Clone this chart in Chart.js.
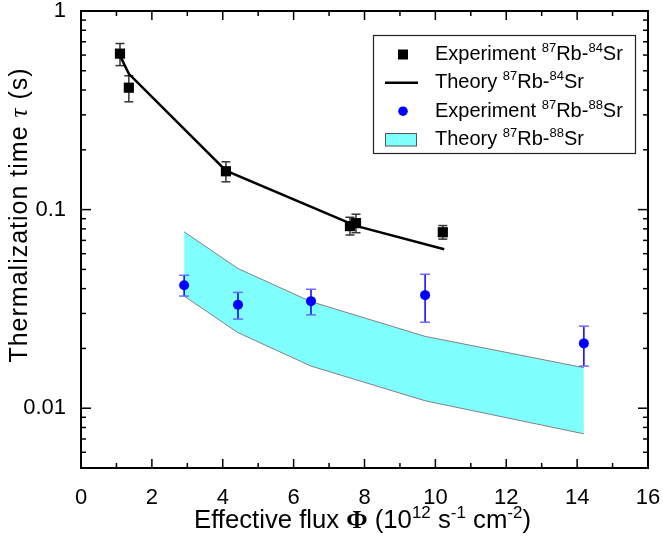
<!DOCTYPE html>
<html><head><meta charset="utf-8">
<script src="https://cdn.jsdelivr.net/npm/chart.js@4.4.0/dist/chart.umd.min.js"></script>
<style>html,body{margin:0;padding:0;background:#fff}#wrap{width:663px;height:540px}</style>
</head><body><div id="wrap"><canvas id="c" width="663" height="540"></canvas></div>
<script>
// ---- data ----
const exp84X  = [1.10, 1.35, 4.09, 7.59, 7.76, 10.21];
const exp84Y  = [0.610, 0.411, 0.156, 0.0826, 0.0855, 0.0769];
const exp84Hi = [0.686, 0.472, 0.174, 0.0915, 0.0948, 0.0831];
const exp84Lo = [0.531, 0.349, 0.138, 0.0745, 0.0765, 0.0710];

const theory84X = [1.10, 1.35, 4.09, 7.76, 10.25];
const theory84Y = [0.596, 0.483, 0.157, 0.0828, 0.0632];

const exp88X  = [2.91, 4.43, 6.49, 9.71, 14.19];
const exp88Y  = [0.0416, 0.0332, 0.0346, 0.0371, 0.0212];
const exp88Hi = [0.0467, 0.0383, 0.0397, 0.0473, 0.0259];
const exp88Lo = [0.0367, 0.0281, 0.0295, 0.0271, 0.0163];

const band88X     = [2.91, 4.43, 6.49, 9.71, 14.19];
const band88Upper = [0.0773, 0.0505, 0.0344, 0.0230, 0.0160];
const band88Lower = [0.0367, 0.0240, 0.0163, 0.0109, 0.00743];

const xTickValues = [0, 2, 4, 6, 8, 10, 12, 14, 16];
const yTickValues = [1, 0.1, 0.01];
const yTickLabels = ['1', '0.1', '0.01'];

const seriesNames = [
  'Experiment ^{87}Rb-^{84}Sr',
  'Theory ^{87}Rb-^{84}Sr',
  'Experiment ^{87}Rb-^{88}Sr',
  'Theory ^{87}Rb-^{88}Sr'
];
const xTitle = 'Effective flux Φ (10^{12} s^{-1} cm^{-2})';
const yTitle = 'Thermalization time τ (s)';

// ---- helpers ----
const FONT = "'Liberation Sans', Arial, sans-serif";
const SERIF = "'Liberation Serif', 'DejaVu Serif', serif";
const pts = (xs, ys) => xs.map((x, i) => ({x, y: ys[i]}));

function parseRich(s){
  const out = []; const re = /\^\{([^}]*)\}|([Φτ])|([^\^Φτ]+)/g; let m;
  while ((m = re.exec(s))){
    if (m[1] !== undefined) out.push({t: m[1], k: 'sup'});
    else if (m[2]) out.push({t: m[2], k: m[2] === 'Φ' ? 'phi' : 'tau'});
    else out.push({t: m[3], k: 'n'});
  }
  return out;
}
function fontFor(k, size){
  if (k === 'sup') return Math.round(size * 0.66) + 'px ' + FONT;
  if (k === 'phi') return 'bold ' + size + 'px ' + SERIF;
  if (k === 'tau') return 'italic ' + size + 'px ' + SERIF;
  return size + 'px ' + FONT;
}
function richWidth(ctx, parts, size){
  let w = 0;
  for (const p of parts){ ctx.font = fontFor(p.k, size); w += ctx.measureText(p.t).width; }
  return w;
}
function drawRich(ctx, parts, x, y, size){
  ctx.textBaseline = 'alphabetic'; ctx.textAlign = 'left';
  for (const p of parts){
    ctx.font = fontFor(p.k, size);
    const dy = p.k === 'sup' ? -size * 0.4 : 0;
    ctx.fillText(p.t, x, y + dy);
    x += ctx.measureText(p.t).width;
  }
}
function line(ctx, x1, y1, x2, y2){ ctx.beginPath(); ctx.moveTo(x1, y1); ctx.lineTo(x2, y2); ctx.stroke(); }

function drawErrorBars(chart){
  const {ctx, scales: {x, y}} = chart;
  ctx.save();
  ctx.lineWidth = 1.5;
  const groups = [
    {xs: exp84X, lo: exp84Lo, hi: exp84Hi, stem: '#333', cap: '#333', w: 4.5},
    {xs: exp88X, lo: exp88Lo, hi: exp88Hi, stem: '#0000ff', cap: '#6a6aff', w: 5}
  ];
  for (const g of groups){
    g.xs.forEach((xv, i) => {
      const px = x.getPixelForValue(xv);
      const pl = y.getPixelForValue(g.lo[i]);
      const ph = y.getPixelForValue(g.hi[i]);
      ctx.strokeStyle = g.stem; line(ctx, px, pl, px, ph);
      ctx.strokeStyle = g.cap;
      line(ctx, px - g.w, pl, px + g.w, pl);
      line(ctx, px - g.w, ph, px + g.w, ph);
    });
  }
  ctx.restore();
}

function drawFrameAndTicks(chart){
  const {ctx, chartArea: a, scales: {x, y}} = chart;
  ctx.save();
  ctx.strokeStyle = '#000'; ctx.lineWidth = 1.5;
  for (let v = x.min; v <= x.max + 1e-9; v += 1){
    const px = x.getPixelForValue(v);
    const len = (Math.round(v) % 2 === 0) ? 9 : 5;
    line(ctx, px, a.bottom, px, a.bottom - len);
    line(ctx, px, a.top, px, a.top + len);
  }
  const lmin = Math.floor(Math.log10(y.min)), lmax = Math.ceil(Math.log10(y.max));
  for (let e = lmin; e <= lmax; e++){
    for (let m = 1; m <= 9; m++){
      const v = m * Math.pow(10, e);
      if (v < y.min * 0.999 || v > y.max * 1.001) continue;
      const py = y.getPixelForValue(v);
      const len = m === 1 ? 10 : 5;
      line(ctx, a.left, py, a.left + len, py);
      line(ctx, a.right, py, a.right - len, py);
    }
  }
  ctx.lineWidth = 2;
  ctx.strokeRect(a.left, a.top, a.right - a.left, a.bottom - a.top);
  ctx.restore();
}

function drawLegend(chart){
  const {ctx, chartArea: a} = chart;
  const L = a.right - 275, T = a.top + 24, W = 262, H = 118;
  ctx.save();
  ctx.fillStyle = '#fff'; ctx.fillRect(L, T, W, H);
  ctx.strokeStyle = '#222'; ctx.lineWidth = 1.2; ctx.strokeRect(L + 0.5, T + 0.5, W, H);
  const sx = L + 30, tx = L + 62, size = 20;
  const base = [T + 25, T + 53.3, T + 81.7, T + 110];
  base.forEach((b, i) => {
    const cy = b - 5.5;
    const ds = chart.data.datasets[i];
    if (i === 0){ ctx.fillStyle = ds.backgroundColor; ctx.fillRect(sx - 5, cy - 5, 10, 10); }
    if (i === 1){ ctx.strokeStyle = ds.borderColor; ctx.lineWidth = 2.5; line(ctx, sx - 18, cy, sx + 15, cy); }
    if (i === 2){ ctx.fillStyle = ds.backgroundColor; ctx.beginPath(); ctx.arc(sx, cy, 4.8, 0, Math.PI * 2); ctx.fill(); }
    if (i === 3){ ctx.fillStyle = ds.backgroundColor; ctx.fillRect(sx - 18, cy - 6.5, 32, 13);
      ctx.strokeStyle = '#555'; ctx.lineWidth = 1; ctx.strokeRect(sx - 17.5, cy - 6, 31, 12.5); }
    ctx.fillStyle = '#000';
    drawRich(ctx, parseRich(seriesNames[i]), tx, b, size);
  });
  ctx.restore();
}

function drawTitles(chart){
  const {ctx, chartArea: a} = chart;
  ctx.save(); ctx.fillStyle = '#000';
  const xp = parseRich(xTitle), xs = 25.7;
  const xw = richWidth(ctx, xp, xs);
  drawRich(ctx, xp, (a.left + a.right) / 2 - 2 - xw / 2, 528, xs);
  const yp = parseRich(yTitle), ys = 25;
  ctx.letterSpacing = '1px';
  ctx.translate(27, 215); ctx.rotate(-Math.PI / 2);
  const yw = richWidth(ctx, yp, ys);
  drawRich(ctx, yp, -yw / 2, 0, ys);
  ctx.restore();
}

const customPlugin = {
  id: 'custom',
  afterDatasetDraw(chart, args){ if (args.index === 3) drawErrorBars(chart); },
  afterDraw(chart){ drawFrameAndTicks(chart); drawLegend(chart); drawTitles(chart); }
};

new Chart(document.getElementById('c'), {
  type: 'scatter',
  data: {
    datasets: [
      {label: seriesNames[0], data: pts(exp84X, exp84Y), pointStyle: 'rect', pointRadius: 7.2,
       backgroundColor: '#000000', borderWidth: 0, showLine: false},
      {label: seriesNames[1], data: pts(theory84X, theory84Y), showLine: true, borderColor: '#000000',
       borderWidth: 2.5, pointRadius: 0, tension: 0, fill: false},
      {label: seriesNames[2], data: pts(exp88X, exp88Y), pointStyle: 'circle', pointRadius: 5,
       backgroundColor: '#0000ff', borderWidth: 0, showLine: false},
      {label: seriesNames[3], data: pts(band88X, band88Upper), showLine: true, borderColor: '#808080',
       borderWidth: 1, pointRadius: 0, tension: 0, fill: '+1', backgroundColor: '#80ffff'},
      {label: seriesNames[3] + ' lower', data: pts(band88X, band88Lower), showLine: true, borderColor: '#808080',
       borderWidth: 1, pointRadius: 0, tension: 0, fill: false, backgroundColor: '#80ffff'}
    ]
  },
  options: {
    responsive: false, animation: false, devicePixelRatio: 1,
    layout: {padding: {top: 11, right: 15, left: 0, bottom: 0}},
    plugins: {legend: {display: false}, tooltip: {enabled: false}, filler: {drawTime: 'beforeDatasetsDraw'}},
    scales: {
      x: {
        type: 'linear', min: 0, max: 16,
        afterFit(s){ s.height = 72; s.paddingLeft = 0; s.paddingRight = 0; },
        afterBuildTicks(s){ s.ticks = xTickValues.map(v => ({value: v})); },
        grid: {display: false}, border: {display: false},
        ticks: {color: '#000', padding: 11, font: {family: FONT, size: 22, lineHeight: 1}, maxRotation: 0, autoSkip: false}
      },
      y: {
        type: 'logarithmic', min: 0.005, max: 1,
        afterFit(s){ s.width = 81; s.paddingTop = 0; s.paddingBottom = 0; },
        afterBuildTicks(s){ s.ticks = yTickValues.map(v => ({value: v})); },
        grid: {display: false}, border: {display: false},
        ticks: {color: '#000', padding: 7, font: {family: FONT, size: 22, lineHeight: 1}, autoSkip: false,
          callback(v){ const i = yTickValues.findIndex(t => Math.abs(t - v) / t < 1e-6); return i >= 0 ? yTickLabels[i] : ''; }}
      }
    }
  },
  plugins: [customPlugin]
});
</script>
</body></html>
